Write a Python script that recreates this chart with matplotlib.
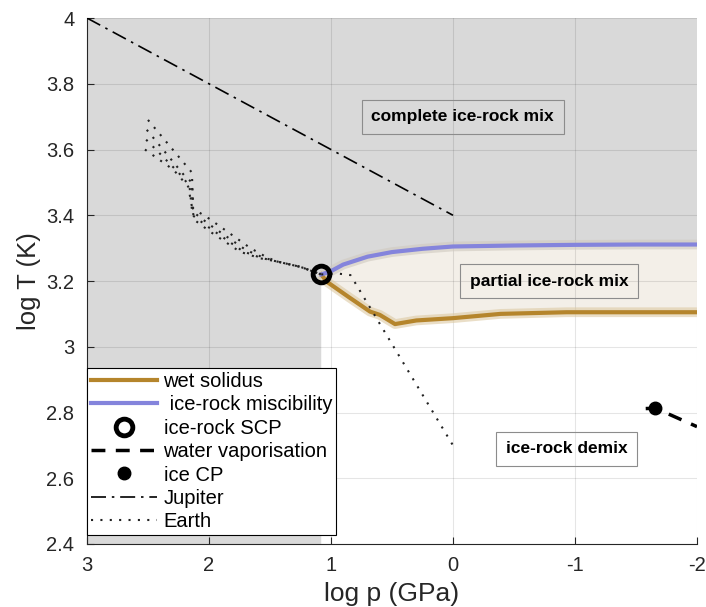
import matplotlib
matplotlib.use('Agg')
import matplotlib.pyplot as plt
import numpy as np

plt.rcParams['font.family'] = ['Liberation Sans', 'DejaVu Sans']

# ---------------- dati ----------------
# curva di miscibilita' ghiaccio-roccia (log p, log T)
misc_p = [1.08, 1.01, 0.90, 0.70, 0.50, 0.25, 0.0, -0.5, -1.0, -1.5, -2.0]
misc_T = [3.220, 3.228, 3.250, 3.274, 3.288, 3.298, 3.305, 3.308, 3.310, 3.311, 3.311]

# wet solidus
sol_p = [1.08, 1.035, 0.85, 0.68, 0.60, 0.475, 0.30, 0.0, -0.39, -0.93, -1.5, -2.0]
sol_T = [3.220, 3.198, 3.150, 3.107, 3.097, 3.069, 3.080, 3.087, 3.100, 3.105, 3.105, 3.105]

# punto critico (SCP) ghiaccio-roccia
scp_p, scp_T = 1.08, 3.22

# vaporizzazione acqua + punto critico
vap_p = [-1.58, -1.66, -2.0]
vap_T = [2.812, 2.813, 2.757]
cp_p, cp_T = -1.66, 2.813

# adiabata di Giove
jup_p = [3.0, 0.0]
jup_T = [4.0, 3.4]

# geoterme terrestri (fascio di linee che converge sul SCP)
earth_lines = [
    ([2.50, 2.14, 2.13, 2.00, 1.66, 1.54, 1.45, 1.25, 1.08],
     [3.69, 3.53, 3.42, 3.39, 3.30, 3.275, 3.26, 3.243, 3.22]),
    ([2.51, 2.20, 2.14, 2.13, 1.99, 1.70, 1.56, 1.45, 1.25, 1.08],
     [3.66, 3.52, 3.50, 3.41, 3.37, 3.295, 3.272, 3.26, 3.243, 3.22]),
    ([2.515, 2.25, 2.16, 2.135, 1.99, 1.72, 1.57, 1.45, 1.25, 1.08],
     [3.63, 3.53, 3.49, 3.40, 3.36, 3.29, 3.27, 3.26, 3.243, 3.22]),
    ([2.525, 2.29, 2.17, 2.12, 1.99, 1.746, 1.58, 1.45, 1.25, 1.08],
     [3.60, 3.538, 3.487, 3.386, 3.35, 3.289, 3.269, 3.26, 3.243, 3.22]),
]
earth_tail_p = [1.08, 0.95, 0.84, 0.0]
earth_tail_T = [3.22, 3.223, 3.218, 2.70]

labels = ['wet solidus', ' ice-rock miscibility', 'ice-rock SCP',
          'water vaporisation', 'ice CP', 'Jupiter', 'Earth']
# ---------------------------------------------------------

C_SOL = '#b5852c'
C_MISC = '#8484dc'
C_GRAY = '#d9d9d9'
C_BEIGE = '#f3efe8'

fig = plt.figure(figsize=(7.06, 6.07), dpi=100)
ax = fig.add_axes([0.1232, 0.1038, 0.864, 0.8665])

xmin, xmax, ymin, ymax = 3.0, -2.0, 2.4, 4.0

# regione grigia: mescolanza completa
gx = [xmin, scp_p] + misc_p + [xmax, xmin]
gy = [ymin, ymin] + misc_T + [ymax, ymax]
ax.fill(gx, gy, color=C_GRAY, lw=0, zorder=1)

# regione beige: mescolanza parziale
bx = misc_p + sol_p[::-1]
by = misc_T + sol_T[::-1]
ax.fill(bx, by, color=C_BEIGE, lw=0, zorder=1)

# alone chiaro sotto le curve
ax.plot(misc_p, misc_T, color='#cfc9bf', lw=7, alpha=0.6, solid_capstyle='butt', zorder=2)
ax.plot(sol_p, sol_T, color='#dcc9a2', lw=7, alpha=0.6, solid_capstyle='butt', zorder=2)

h_sol, = ax.plot(sol_p, sol_T, color=C_SOL, lw=3, zorder=3)
h_misc, = ax.plot(misc_p, misc_T, color=C_MISC, lw=3, zorder=3)

h_jup, = ax.plot(jup_p, jup_T, color='k', lw=1.2, ls=(0, (9, 3.5, 1.5, 3.5)), zorder=3)

dots = (0, (1, 3.5))
for ep, eT in earth_lines:
    h_earth, = ax.plot(ep, eT, color='#222222', lw=1.5, ls=dots, zorder=3)
ax.plot(earth_tail_p, earth_tail_T, color='#222222', lw=1.5, ls=dots, zorder=3)

h_vap, = ax.plot(vap_p, vap_T, color='k', lw=2.5, ls=(0, (4, 3)), zorder=3)
h_cp, = ax.plot([cp_p], [cp_T], 'o', color='k', ms=9, zorder=4)
h_scp, = ax.plot([scp_p], [scp_T], 'o', mfc='none', mec='k', mew=3.5, ms=12, zorder=5)

# etichette delle regioni
box = dict(boxstyle='square,pad=0.55', fc='none', ec='#8c8c8c', lw=0.8)
ax.text(-0.08, 3.70, 'complete ice-rock mix', ha='center', va='center',
        fontsize=12.5, fontweight='bold', bbox=box, zorder=6)
ax.text(-0.79, 3.20, 'partial ice-rock mix', ha='center', va='center',
        fontsize=12.5, fontweight='bold', bbox=box, zorder=6)
ax.text(-0.93, 2.69, 'ice-rock demix', ha='center', va='center',
        fontsize=12.5, fontweight='bold', bbox=box, zorder=6)

ax.set_xlim(xmin, xmax)
ax.set_ylim(ymin, ymax)
ax.set_xticks([3, 2, 1, 0, -1, -2])
ax.set_xticklabels(['3', '2', '1', '0', '-1', '-2'])
ax.set_yticks([2.4, 2.6, 2.8, 3.0, 3.2, 3.4, 3.6, 3.8, 4.0])
ax.set_yticklabels(['2.4', '2.6', '2.8', '3', '3.2', '3.4', '3.6', '3.8', '4'])

ax.set_axisbelow('line')
ax.grid(True, color='k', alpha=0.1, lw=0.8)
for s in ['top', 'right']:
    ax.spines[s].set_visible(False)
for s in ['left', 'bottom']:
    ax.spines[s].set_color('#262626')
    ax.spines[s].set_linewidth(0.8)
ax.tick_params(direction='in', length=5, labelsize=14.5, colors='#262626', pad=9)

ax.set_xlabel('log p (GPa)', fontsize=19, color='#262626', labelpad=5)
ax.set_ylabel('log T (K)', fontsize=18.5, color='#262626', labelpad=4)

leg = ax.legend([h_sol, h_misc, h_scp, h_vap, h_cp, h_jup, h_earth], labels,
                loc='upper left', bbox_to_anchor=(0.0, 0.335), borderaxespad=0,
                fontsize=14.5, fancybox=False, edgecolor='k', framealpha=1,
                handlelength=3.3, handletextpad=0.3, labelspacing=0.22,
                borderpad=0.2)
leg.get_frame().set_linewidth(0.8)
leg.set_zorder(10)

fig.savefig('out.png', dpi=100)
